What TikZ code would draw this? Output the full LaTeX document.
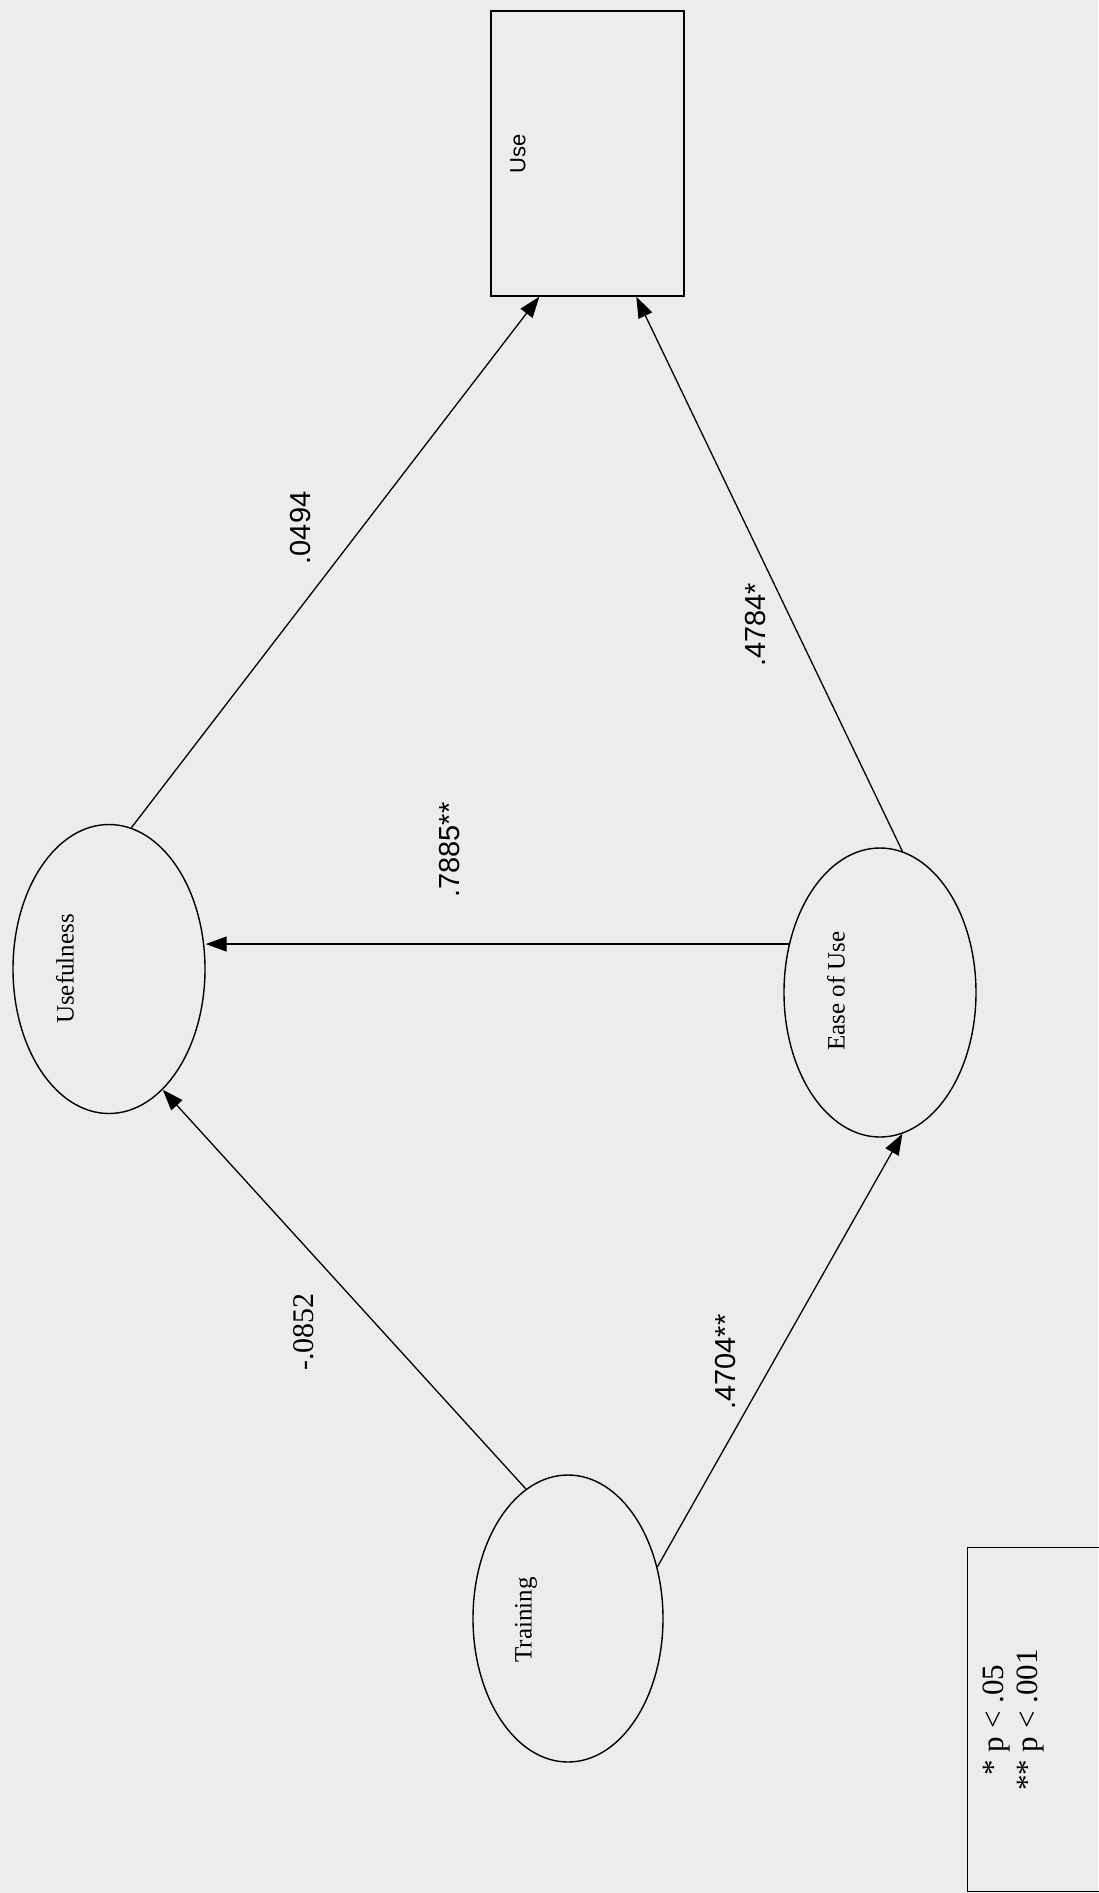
\documentclass[tikz,border=0pt]{standalone}
\usepackage{fontspec}
\setmainfont{Liberation Serif}
\setsansfont{Liberation Sans}
\usetikzlibrary{arrows.meta,shapes.geometric}
\definecolor{scan}{RGB}{236,236,236}
\tikzset{
  latent/.style={ellipse,draw,line width=1.4pt,minimum width=192pt,
    minimum height=289pt,inner sep=0pt},
  observed/.style={rectangle,draw,line width=1.4pt,minimum width=193pt,
    minimum height=285pt,inner sep=0pt},
  varname/.style={rotate=90,inner sep=0pt,font=\fontsize{25}{28}\selectfont},
  coef/.style={rotate=90,inner sep=0pt,font=\sffamily\fontsize{29}{31}\selectfont},
  flow/.style={-{Triangle[length=21pt,width=15pt]},line width=1.3pt}}

\begin{document}
\begin{tikzpicture}[x=1pt,y=-1pt]
  \path[use as bounding box,fill=scan] (0,0) rectangle (1098,1893);
  % constructs
  \node[observed] (use) at (587.5,153.5) {};
  \node[varname,font=\sffamily\fontsize{22}{24}\selectfont] (uselbl) at (518,154) {Use};
  \node[latent] (useful) at (109,969) {};
  \node[varname] (usefullbl) at (65,969) {Usefulness};
  \node[latent] (ease) at (880,992.5) {};
  \node[varname] (easelbl) at (836,991) {Ease of Use};
  \node[latent,minimum width=190pt,minimum height=287pt] (train) at (568,1618.5) {};
  \node[varname] (trainlbl) at (526,1620) {Training};
  % paths
  \draw[flow] (useful.81) -- ([xshift=49pt]use.south west);
  \draw[flow] (ease.81) -- ([xshift=146pt]use.south west);
  \draw[flow] (ease.152) -- (ease.152 -| useful.east);
  \draw[flow] (train.108) -- (useful.294);
  \draw[flow] (train.30) -- (ease.279);
  % coefficients
  \node[coef] (c1) at (301,528) {.0494};
  \node[coef] (c2) at (756,625) {.4784*};
  \node[coef] (c3) at (450,850) {.7885**};
  \node[coef,font=\fontsize{30}{32}\selectfont] (c4) at (304,1332) {-.0852};
  \node[coef] (c5) at (726,1362) {.4704**};
  % legend
  \node[draw,line width=1.4pt,minimum width=160pt,minimum height=344pt,
    anchor=north west] (legend) at (967,1547) {};
  \node[rotate=90,align=center,font=\fontsize{31}{34}\selectfont]
    (legendtxt) at (1013,1720) {* p < .05\\** p < .001};
\end{tikzpicture}
\end{document}
